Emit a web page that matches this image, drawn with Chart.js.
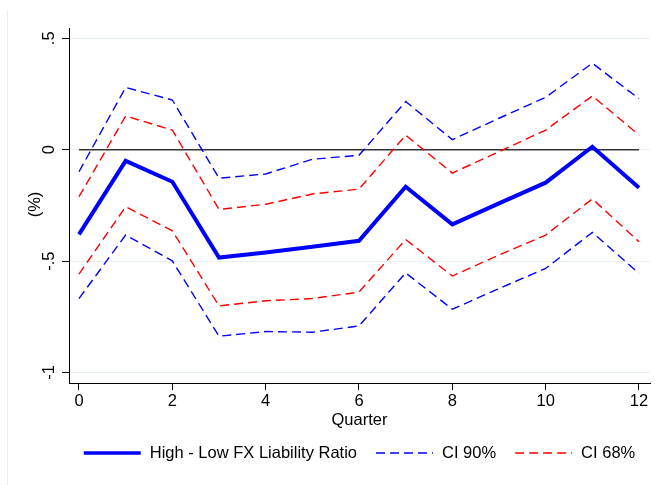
<!DOCTYPE html>
<html>
<head>
<meta charset="utf-8">
<script src="https://cdn.jsdelivr.net/npm/chart.js@4.4.1/dist/chart.umd.min.js"></script>
<style>
  html, body { margin: 0; padding: 0; background: #fff; }
</style>
</head>
<body>
<canvas id="irf" width="655" height="485"></canvas>
<script>
// impulse response, quarters 0..12
const quarters = [0, 1, 2, 3, 4, 5, 6, 7, 8, 9, 10, 11, 12];
const effect    = [-0.380, -0.050, -0.144, -0.484, -0.461, -0.436, -0.409, -0.166, -0.335, -0.241, -0.148, 0.013, -0.171];
const ci90Upper = [-0.099, 0.279, 0.223, -0.128, -0.109, -0.043, -0.025, 0.216, 0.045, 0.141, 0.235, 0.388, 0.229];
const ci90Lower = [-0.668, -0.383, -0.499, -0.837, -0.816, -0.819, -0.791, -0.553, -0.716, -0.623, -0.533, -0.371, -0.555];
const ci68Upper = [-0.211, 0.151, 0.088, -0.268, -0.245, -0.199, -0.177, 0.065, -0.105, -0.009, 0.088, 0.241, 0.066];
const ci68Lower = [-0.558, -0.256, -0.364, -0.701, -0.678, -0.668, -0.639, -0.403, -0.567, -0.473, -0.383, -0.221, -0.413];
const zeroLine = [0, 0];

const xTicks = [0, 2, 4, 6, 8, 10, 12];
const yTicks = [-1, -0.5, 0, 0.5];
const yTickLabels = ["-1", "-.5", "0", ".5"];

const FONT = "'Liberation Sans', Arial, Helvetica, sans-serif";
const FSIZE = 16.5;

function pts(vals) {
  return vals.map((v, i) => ({ x: quarters[i], y: v }));
}

// faint outer frame of the graph region
const framePlugin = {
  id: "frame",
  beforeDraw(chart) {
    const ctx = chart.ctx;
    ctx.save();
    ctx.strokeStyle = "#e9f0f2";
    ctx.lineWidth = 1;
    ctx.beginPath();
    ctx.moveTo(7.5, 10);
    ctx.lineTo(7.5, chart.height);
    ctx.stroke();
    ctx.restore();
  }
};

// rotated y tick labels and y title, stata style
const yLabelPlugin = {
  id: "yLabels",
  afterDraw(chart) {
    const ctx = chart.ctx;
    const y = chart.scales.y;
    ctx.save();
    ctx.fillStyle = "#000";
    ctx.font = FSIZE + "px " + FONT;
    ctx.textAlign = "center";
    ctx.textBaseline = "middle";
    yTicks.forEach((v, i) => {
      ctx.save();
      ctx.translate(49, y.getPixelForValue(v));
      ctx.rotate(-Math.PI / 2);
      ctx.fillText(yTickLabels[i], 0, 0);
      ctx.restore();
    });
    const area = chart.chartArea;
    ctx.translate(35, (area.top + area.bottom) / 2 - 1);
    ctx.rotate(-Math.PI / 2);
    ctx.fillText("(%)", 0, 0);
    ctx.restore();
  }
};

// legend row under the axis
const legendPlugin = {
  id: "lineLegend",
  afterDraw(chart) {
    const ctx = chart.ctx;
    const area = chart.chartArea;
    const items = chart.data.datasets.filter(d => d.legend);
    const sample = 57, gapText = 9, gapItem = 19, yMid = 453;
    ctx.save();
    ctx.font = FSIZE + "px " + FONT;
    const widths = items.map(d => ctx.measureText(d.label).width);
    let total = 0;
    widths.forEach((w, i) => { total += sample + gapText + w + (i ? gapItem : 0); });
    let x = (area.left + area.right) / 2 - total / 2;
    items.forEach((d, i) => {
      ctx.strokeStyle = d.borderColor;
      ctx.lineWidth = Math.min(d.borderWidth, 3.4);
      ctx.setLineDash(d.borderDash || []);
      ctx.beginPath();
      ctx.moveTo(x, yMid);
      ctx.lineTo(x + sample, yMid);
      ctx.stroke();
      ctx.setLineDash([]);
      x += sample + gapText;
      ctx.fillStyle = "#000";
      ctx.textAlign = "left";
      ctx.textBaseline = "middle";
      ctx.fillText(d.label, x, yMid);
      x += widths[i] + gapItem;
    });
    ctx.restore();
  }
};

const data = {
  datasets: [
    {
      label: "High - Low FX Liability Ratio",
      data: pts(effect),
      borderColor: "#0000ff",
      borderWidth: 4,
      legend: true
    },
    {
      label: "CI 90%",
      data: pts(ci90Upper),
      borderColor: "#0000ff",
      borderWidth: 1.4,
      borderDash: [9, 5],
      legend: true
    },
    {
      label: "CI 90% lower",
      data: pts(ci90Lower),
      borderColor: "#0000ff",
      borderWidth: 1.4,
      borderDash: [9, 5]
    },
    {
      label: "CI 68%",
      data: pts(ci68Upper),
      borderColor: "#ff0000",
      borderWidth: 1.4,
      borderDash: [9, 5],
      legend: true
    },
    {
      label: "CI 68% lower",
      data: pts(ci68Lower),
      borderColor: "#ff0000",
      borderWidth: 1.4,
      borderDash: [9, 5]
    },
    {
      label: "zero",
      data: [{ x: quarters[0], y: zeroLine[0] }, { x: quarters[quarters.length - 1], y: zeroLine[1] }],
      borderColor: "#333333",
      borderWidth: 1.6
    }
  ]
};

const config = {
  type: "line",
  data: data,
  options: {
    responsive: false,
    animation: false,
    devicePixelRatio: 1,
    elements: {
      point: { radius: 0 },
      line: { tension: 0, fill: false, borderCapStyle: "butt", borderJoinStyle: "miter" }
    },
    layout: { padding: { left: 10, top: 28, right: 5, bottom: 55 } },
    scales: {
      x: {
        type: "linear",
        min: -0.214,
        max: 12.236,
        afterBuildTicks: s => { s.ticks = xTicks.map(v => ({ value: v })); },
        afterFit: s => { s.height = 47; },
        grid: { drawOnChartArea: false, drawTicks: true, tickLength: 7, tickColor: "#000", lineWidth: 1 },
        border: { display: true, color: "#000", width: 1 },
        ticks: {
          color: "#000",
          padding: 2,
          maxRotation: 0,
          font: { family: FONT, size: FSIZE },
          callback: v => String(v)
        },
        title: {
          display: true,
          text: "Quarter",
          color: "#000",
          font: { family: FONT, size: FSIZE },
          padding: { top: 0, bottom: 0 }
        }
      },
      y: {
        min: -1.047,
        max: 0.546,
        afterBuildTicks: s => { s.ticks = yTicks.map(v => ({ value: v })); },
        afterFit: s => { s.width = 59; },
        grid: { color: "#e6eff1", lineWidth: 1, drawTicks: true, tickLength: 7, tickColor: "#000" },
        border: { display: true, color: "#000", width: 1 },
        ticks: { display: false }
      }
    },
    plugins: {
      legend: { display: false },
      tooltip: { enabled: false }
    }
  },
  plugins: [framePlugin, yLabelPlugin, legendPlugin]
};

const irf = new Chart(document.getElementById("irf"), config);
</script>
</body>
</html>
